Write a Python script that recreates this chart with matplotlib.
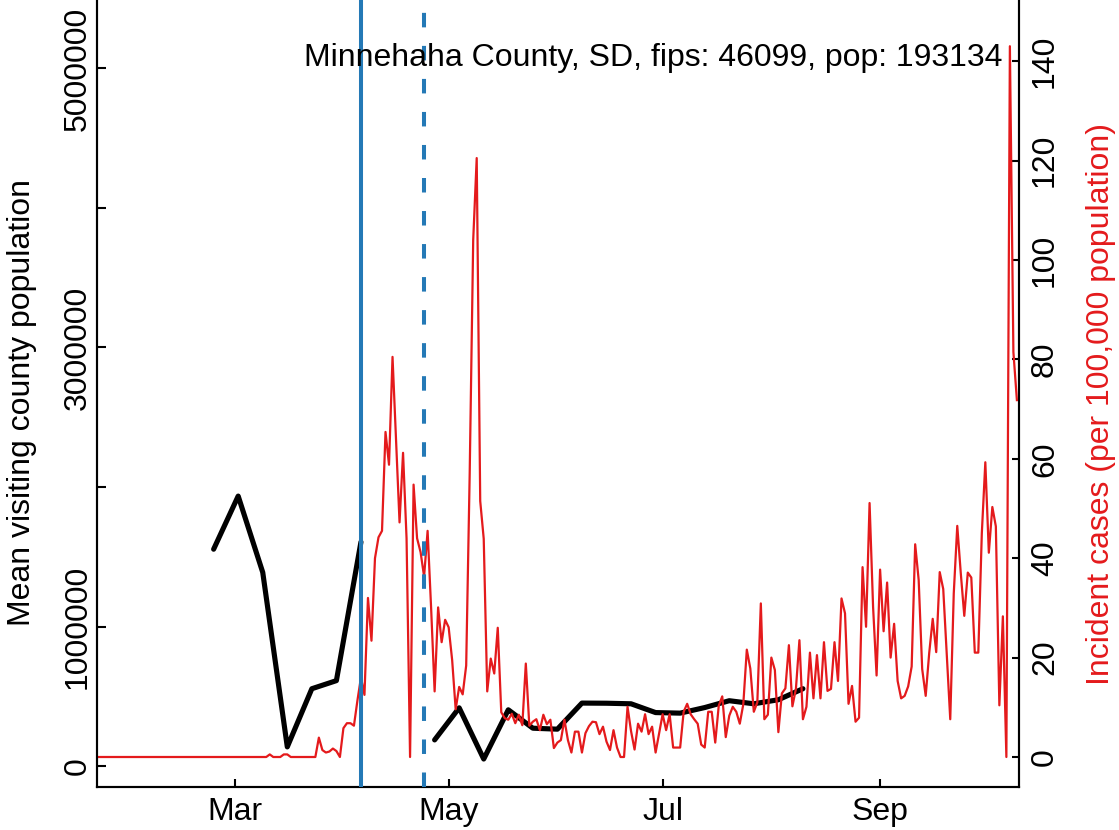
import numpy as np
import matplotlib
matplotlib.use("Agg")
import matplotlib.pyplot as plt
import matplotlib.dates as mdates

plt.rcParams['font.family'] = ['Liberation Sans', 'DejaVu Sans']

# ---------------- data ----------------
visit_dates = ['2020-02-24', '2020-03-02', '2020-03-09', '2020-03-16', '2020-03-23',
               '2020-03-30', '2020-04-06', '2020-04-13', '2020-04-20', '2020-04-27',
               '2020-05-04', '2020-05-11', '2020-05-18', '2020-05-25', '2020-06-01',
               '2020-06-08', '2020-06-15', '2020-06-22', '2020-06-29', '2020-07-06',
               '2020-07-13', '2020-07-20', '2020-07-27', '2020-08-03', '2020-08-10']
visit_pop = [1554000, 1935000, 1388000, 137000, 554000,
             612000, 1606000, np.nan, np.nan, 187000,
             417000, 50000, 403000, 271000, 264000,
             451000, 450000, 446000, 383000, 379000,
             419000, 468000, 446000, 475000, 554000]

case_start = '2020-01-22'
incident_cases = [
    0, 0, 0, 0, 0, 0, 0, 0, 0, 0,
    0, 0, 0, 0, 0, 0, 0, 0, 0, 0,
    0, 0, 0, 0, 0, 0, 0, 0, 0, 0,
    0, 0, 0, 0, 0, 0, 0, 0, 0, 0,
    0, 0, 0, 0, 0, 0, 0, 0, 0, 0.52,
    0, 0, 0, 0.52, 0.52, 0, 0, 0, 0, 0,
    0, 0, 0, 3.9, 1.4, 0.9, 1.1, 1.7, 1.2, 0,
    5.8, 6.8, 6.8, 6.3, 11.4, 16, 12.5, 32, 23.4, 40,
    44.2, 45.5, 65.4, 58.8, 80.5, 64, 47.2, 61.2, 44, 0,
    54.8, 44, 41.2, 36.3, 45.5, 30, 13.2, 30.1, 23.1, 27.6,
    26.1, 19.5, 9.6, 14.1, 12.6, 18.4, 57, 104, 120.5, 51.5,
    43.9, 13.2, 19.8, 16.8, 26, 9, 7.8, 7.5, 8.7, 6.8,
    8.5, 6.4, 18.8, 6.3, 7.1, 7.6, 5.4, 8.5, 6.6, 7.5,
    1.8, 2.9, 3.4, 7.5, 3.4, 0.9, 5.1, 5.1, 0.9, 4.8,
    6.2, 7.1, 7, 4.6, 6.1, 3.1, 1.4, 5.4, 1.9, 0,
    0, 10.1, 5.2, 1.5, 6.7, 5.1, 8.6, 4.6, 6.1, 0.9,
    4.8, 8.6, 5.4, 8.6, 1.9, 1.9, 1.9, 9.1, 10.7, 8.6,
    7.6, 6.7, 2.5, 1.9, 9.1, 9.1, 2.9, 10.3, 12.2, 4,
    8.3, 10.1, 9.1, 6.7, 10.6, 21.6, 17.8, 9.1, 11, 30.9,
    7.6, 8.5, 20, 17.5, 5, 12.8, 13.8, 22.5, 10.2, 13.7,
    23.5, 7.6, 10.1, 21, 11.8, 20.5, 11.8, 23.1, 13.3, 13.7,
    23.1, 15.3, 31.9, 28.9, 10.7, 14.3, 7.1, 7.9, 38.2, 26.2,
    51.1, 30.2, 16.4, 37.7, 25.3, 35.1, 20, 26.8, 15.3, 11.8,
    12.3, 14.2, 18.2, 42.8, 35.6, 17.7, 12.3, 20.9, 27.8, 21.1,
    37.2, 33.8, 20.9, 7.6, 32.9, 46.5, 37, 28.4, 37.1, 36.1,
    21, 21, 45, 59.3, 41.1, 50.3, 46.4, 10.4, 28.3, 0,
    143, 81.5, 71.8,
]

event_dates = ['2020-04-06', '2020-04-24']
event_styles = ['solid', 'dashed']

month_ticks = ['2020-03-01', '2020-05-01', '2020-07-01', '2020-09-01']
month_labels = ['Mar', 'May', 'Jul', 'Sep']

left_ticks = [0, 1000000, 2000000, 3000000, 4000000, 5000000]
left_labels = ['0', '1000000', '', '3000000', '', '5000000']
right_ticks = [0, 20, 40, 60, 80, 100, 120, 140]

title_text = 'Minnehaha County, SD, fips: 46099, pop: 193134'
left_title = 'Mean visiting county population'
right_title = 'Incident cases (per 100,000 population)'

# ---------------- plot ----------------
W, H = 1119, 830
fig = plt.figure(figsize=(W / 100, H / 100), dpi=100)
x0, x1, y0, y1 = 97, 1019, 787, 0
ax = fig.add_axes([x0 / W, 1 - y0 / H, (x1 - x0) / W, (y0 - y1) / H])
ax2 = ax.twinx()

vd = mdates.date2num(np.array(visit_dates, dtype='datetime64[D]'))
cd = mdates.date2num(np.datetime64(case_start) + np.arange(len(incident_cases)))
ref = mdates.date2num(np.datetime64('2020-03-01'))

RED = '#E41A1C'
BLUE = '#2479B6'

ax.plot(vd, visit_pop, color='black', lw=3.7, solid_joinstyle='round',
        solid_capstyle='round', zorder=2)
ax2.plot(cd, incident_cases, color=RED, lw=1.6, zorder=2)
for d, s in zip(event_dates, event_styles):
    xd = mdates.date2num(np.datetime64(d))
    if s == 'solid':
        ax2.axvline(xd, color=BLUE, lw=2.9, zorder=3)
    else:
        ax2.axvline(xd, color=BLUE, lw=2.9, ls=(0, (3.6, 4.6)), zorder=3)

ax.set_xlim(ref - 39.25, ref + 223.6)
ax.set_ylim(-150500, 5491000)
ax2.set_ylim(-6.035, 152.3)

ax.set_xticks(mdates.date2num(np.array(month_ticks, dtype='datetime64[D]')))
ax.set_xticklabels(month_labels)
ax.set_yticks(left_ticks)
ax.set_yticklabels(left_labels, rotation=90, va='center')
ax2.set_yticks(right_ticks)
ax2.set_yticklabels([str(t) for t in right_ticks], rotation=90, va='center')

fs = 23
for a in (ax, ax2):
    for sp in a.spines.values():
        sp.set_linewidth(1.5)
    a.spines['top'].set_visible(False)
ax.tick_params(axis='x', direction='in', length=6, width=1.5, labelsize=fs, pad=7)
ax.tick_params(axis='y', direction='in', length=6.5, width=1.5, labelsize=fs, pad=3)
ax2.tick_params(axis='y', direction='in', length=5, width=1.5, labelsize=fs, pad=8)

fig.text(1003 / W, 1 - 58 / H, title_text, ha='right', va='center', fontsize=fs)
fig.text(22 / W, 1 - 402 / H, left_title, rotation=90, ha='center', va='center',
         fontsize=fs)
fig.text(1101 / W, 1 - 404 / H, right_title, rotation=90, ha='center', va='center',
         fontsize=fs, color=RED)

fig.savefig('out.png', dpi=100)
